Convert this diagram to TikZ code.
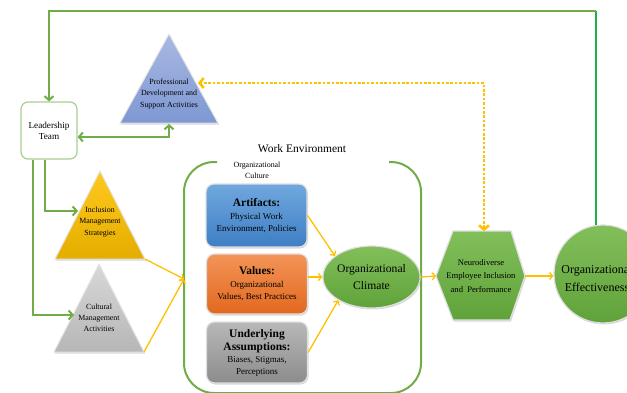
\documentclass[tikz,border=0pt]{standalone}
\usepackage{fontspec}
\setmainfont{Liberation Serif}
\usetikzlibrary{arrows.meta,shapes.geometric,shadows,calc}
\definecolor{lgreen}{HTML}{70AD47}
\definecolor{bgreen}{HTML}{1FAF4C}
\definecolor{ogold}{HTML}{FFC000}
\definecolor{green1}{HTML}{82BF5A}
\definecolor{green2}{HTML}{60A23A}
\newcommand{\ttl}{\fontsize{11.5}{14}\selectfont\bfseries}
\newcommand{\bdy}{\fontsize{9}{12.5}\selectfont\mdseries}
\begin{document}
\begin{tikzpicture}[x=1pt,y=-1pt,
  gline/.style={draw=lgreen,line width=2pt,-{Straight Barb[length=4pt,width=9pt]}},
  garrows/.style={draw=lgreen,line width=2pt,{Straight Barb[length=4pt,width=9pt]}-{Straight Barb[length=4pt,width=9pt]}},
  oarrow/.style={draw=ogold,line width=1.3pt,-{Straight Barb[length=3pt,width=7pt]}},
  odot/.style={draw=ogold,line width=2.6pt,dash pattern=on 2.6pt off 1.8pt,{Straight Barb[length=4pt,width=10pt]}-{Straight Barb[length=4pt,width=10pt]}},
  shd/.style={drop shadow={opacity=0.3,shadow xshift=1pt,shadow yshift=-1.5pt}},
  tri/.style={shd,draw=gray!20,line width=1pt},
  cbox/.style={shd,draw=gray!25,line width=1.2pt,rounded corners=8pt,minimum width=101pt,align=center,inner sep=1pt},
  greenfill/.style={shd,draw=gray!25,line width=1.2pt,top color=green1,bottom color=green2},
  tinytxt/.style={align=center,font=\fontsize{7.9}{11.2}\selectfont},
]
\useasboundingbox (0,0) rectangle (627,392);

% Leadership team
\node[draw=lgreen!60,line width=1.2pt,rounded corners=7pt,fill=white,minimum width=56pt,minimum height=57pt,align=center,inner sep=0pt,font=\fontsize{9.2}{11}\selectfont] (lead) at (49,130.5) {Leadership\\Team};

% Professional development triangle
\coordinate (pdA) at (169,34);
\coordinate (pdL) at (120,123);
\coordinate (pdR) at (218,123);
\path[tri,top color={rgb,255:red,168;green,184;blue,226},bottom color={rgb,255:red,126;green,152;blue,211}] (pdA) -- (pdR) -- (pdL) -- cycle;
\node[tinytxt] (pd) at (169,94) {Professional\\Development and\\Support Activities};
\coordinate (pdB) at (169,124);
\coordinate (pdE) at (198,83);

% Inclusion triangle
\coordinate (incA) at (100,171);
\coordinate (incL) at (55,259);
\coordinate (incR) at (145,259);
\path[tri,top color={rgb,255:red,255;green,200;blue,30},bottom color={rgb,255:red,228;green,174;blue,0}] (incA) -- (incR) -- (incL) -- cycle;
\node[tinytxt] (inc) at (100,222) {Inclusion\\Management\\Strategies};
\coordinate (incW) at (78,211);

% Cultural triangle
\coordinate (culA) at (99,264);
\coordinate (culL) at (54,352);
\coordinate (culR) at (144,352);
\path[tri,top color={rgb,255:red,216;green,216;blue,216},bottom color={rgb,255:red,182;green,182;blue,182}] (culA) -- (culR) -- (culL) -- cycle;
\node[tinytxt] (cul) at (99,318) {Cultural\\Management\\Activities};
\coordinate (culW) at (74,315);

% Work environment bracket
\draw[draw=lgreen,line width=2pt,rounded corners=30pt] (217,162) -- (184,162) -- (184,393) -- (421,393) -- (421,162) -- (389,162);
\coordinate (weL) at (184,279);
\node[font=\fontsize{11.5}{13}\selectfont] (wet) at (302,149) {Work Environment};
\node[tinytxt] (oc) at (257,170) {Organizational\\Culture};

% Culture boxes
\node[cbox,minimum height=63pt,top color={rgb,255:red,112;green,168;blue,222},bottom color={rgb,255:red,62;green,126;blue,196}] (art) at (256.5,215.5)
  {\ttl Artifacts:\\[1pt]\bdy Physical Work\\\bdy Environment, Policies};
\node[cbox,minimum height=60pt,top color={rgb,255:red,243;green,148;blue,88},bottom color={rgb,255:red,226;green,104;blue,30}] (val) at (257,284)
  {\ttl Values:\\[1pt]\bdy Organizational\\\bdy Values, Best Practices};
\node[cbox,minimum height=61pt,top color={rgb,255:red,184;green,184;blue,184},bottom color={rgb,255:red,140;green,140;blue,140}] (und) at (257,352.5)
  {\ttl Underlying\\[1.5pt]\ttl Assumptions:\\\bdy Biases, Stigmas,\\[-0.5pt]\bdy Perceptions};

% Organizational climate
\node[ellipse,greenfill,minimum width=91pt,minimum height=62pt,inner sep=0pt,align=center,font=\fontsize{11.6}{17}\selectfont] (clim) at (371.5,277) {Organizational\\Climate};

% Hexagon
\coordinate (hexW) at (436,276);
\coordinate (hexE) at (525,276);
\coordinate (hexN) at (484,231);
\path[greenfill] (hexW) -- (453,231) -- (511,231) -- (hexE) -- (510,320) -- (453,320) -- cycle;
\node[align=center,font=\fontsize{8.6}{13.5}\selectfont] (hex) at (481,276) {Neurodiverse\\Employee Inclusion\\and~ Performance};

% Organizational effectiveness
\node[circle,greenfill,minimum size=98pt,inner sep=0pt] (eff) at (603,274) {};
\node[align=center,font=\fontsize{12}{18}\selectfont] (efft) at (597,278) {Organizational\\Effectiveness};

% Connectors
\coordinate (topL) at (49,11);
\draw[draw=bgreen,line width=2pt] (eff.98) -- (eff.98 |- topL);
\draw[gline] (eff.98 |- topL) -- (topL) -- (lead.north);
\draw[garrows] ($(lead.east)+(0,6.5)$) -| (pdB);
\draw[gline] ($(lead.south)+(-4,0)$) |- (incW);
\draw[gline] ($(lead.south)+(-16,0)$) |- (culW);
\draw[oarrow] (incR) -- (weL);
\draw[oarrow] (culR) -- (weL);
\draw[oarrow] (art.east) -- (clim.150);
\draw[oarrow] (val.east |- clim.west) -- (clim.west);
\draw[oarrow] (und.east) -- (clim.215);
\draw[oarrow] (clim.east) -- (hexW);
\draw[oarrow] (hexE) -- (hexE -| eff.west);
\draw[odot] (hexN) |- (pdE);
\end{tikzpicture}
\end{document}
